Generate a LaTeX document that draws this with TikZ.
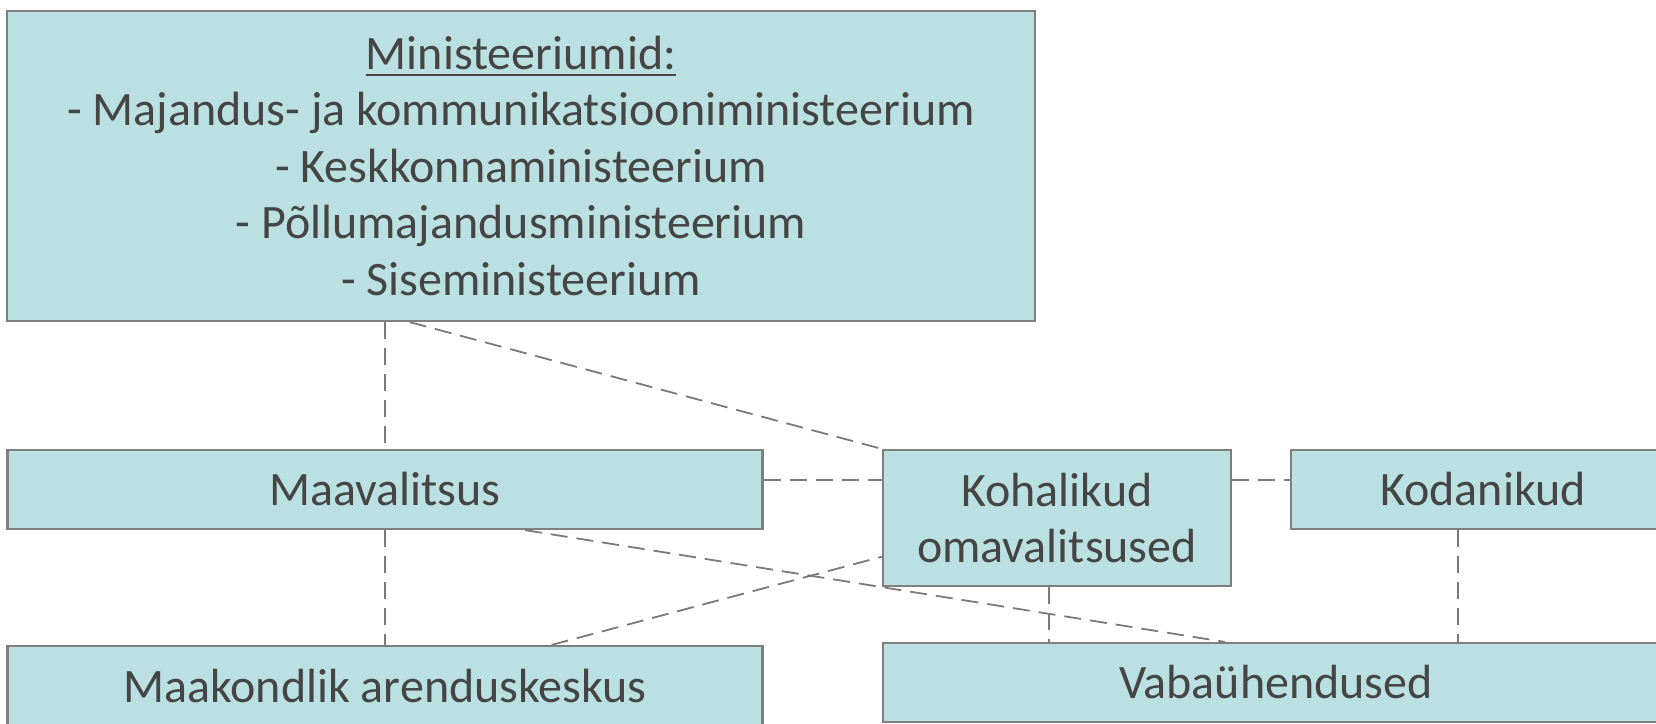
\documentclass[tikz,border=0pt]{standalone}
\usepackage{fontspec}
\setmainfont{Carlito}
\usetikzlibrary{calc}
\definecolor{boxfill}{HTML}{BAE0E2}
\definecolor{boxline}{HTML}{7F7F7F}
\definecolor{txt}{HTML}{454545}
\definecolor{conn}{HTML}{7A7A7A}
\newcommand\myul[1]{\setbox0\hbox{#1}\rlap{\rule[-7pt]{\wd0}{2.8pt}}\box0}
\begin{document}
\begin{tikzpicture}[x=1pt,y=-1pt,
  box/.style={draw=boxline, line width=2.2pt, fill=boxfill, text=txt, align=center,
    inner sep=0pt, font=\fontsize{48}{56.5}\selectfont},
  link/.style={draw=conn, line width=1.8pt, dash pattern=on 17pt off 9pt}]
\useasboundingbox (0,0) rectangle (1656,723);
\node[box, minimum width=1028pt, minimum height=310pt] (min) at (521,166)
  {\myul{Ministeeriumid:}\\- Majandus- ja kommunikatsiooniministeerium\\- Keskkonnaministeerium\\- Põllumajandusministeerium\\- Siseministeerium};
\node[box, minimum width=755pt, minimum height=79pt] (mv) at (385,489.5) {Maavalitsus};
\node[box, minimum width=348pt, minimum height=136pt] (koh) at (1057,518) {Kohalikud\\omavalitsused};
\node[box, minimum width=384pt, minimum height=79pt] (kod) at (1483,489.5) {Kodanikud};
\node[box, minimum width=755pt, minimum height=79pt] (mk) at (385,685.5) {Maakondlik arenduskeskus};
\node[box, minimum width=786pt, minimum height=79pt] (vab) at (1276,682.5) {Vabaühendused};
\coordinate (hy) at (0,480);
\draw[link] (mv.north |- min.south) -- (mv.north);
\draw[link] ($(min.south west)!0.392!(min.south east)$) -- (koh.north west);
\draw[link] (mv.east |- hy) -- (koh.west |- hy);
\draw[link] (koh.east |- hy) -- (kod.west |- hy);
\draw[link] ($(mv.south west)!0.685!(mv.south east)$) -- ($(vab.north west)!0.435!(vab.north east)$);
\draw[link] ($(mk.north west)!0.72!(mk.north east)$) -- ($(koh.north west)!0.78!(koh.south west)$);
\draw[link] (mv.south) -- (mk.north);
\coordinate (kb) at ($(koh.south west)!0.477!(koh.south east)$);
\draw[link] (kb) -- (kb |- vab.north);
\coordinate (db) at ($(kod.south west)!0.435!(kod.south east)$);
\draw[link] (db) -- (db |- vab.north);
\end{tikzpicture}
\end{document}
